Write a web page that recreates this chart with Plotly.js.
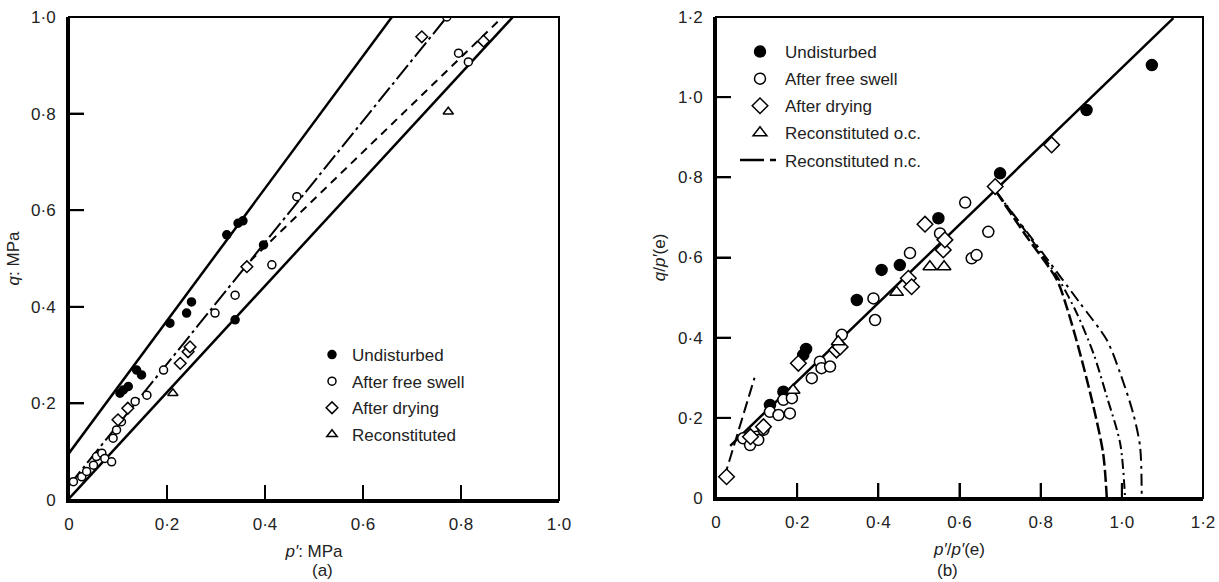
<!DOCTYPE html>
<html>
<head>
<meta charset="utf-8">
<script src="https://cdn.plot.ly/plotly-3.0.1.min.js"></script>
<style>html,body{margin:0;padding:0;background:#fff;}#chart{width:1219px;height:582px;}</style>
</head>
<body>
<div id="chart"></div>
<script>
// ---------- Panel (a): q vs p' (MPa) ----------
const aUndX = [0.104, 0.111, 0.121, 0.138, 0.148, 0.206, 0.24, 0.25, 0.322, 0.339, 0.345, 0.355, 0.397];
const aUndY = [0.221, 0.228, 0.235, 0.269, 0.259, 0.366, 0.387, 0.41, 0.549, 0.373, 0.573, 0.578, 0.528];
const aSwellX = [0.009, 0.026, 0.036, 0.05, 0.056, 0.067, 0.073, 0.087, 0.09, 0.097, 0.107, 0.135, 0.159, 0.193, 0.298, 0.339, 0.414, 0.465, 0.771, 0.795, 0.815];
const aSwellY = [0.038, 0.048, 0.059, 0.072, 0.09, 0.097, 0.086, 0.079, 0.128, 0.145, 0.162, 0.204, 0.217, 0.269, 0.387, 0.424, 0.487, 0.628, 1.0, 0.925, 0.907];
const aDryX = [0.1, 0.12, 0.227, 0.243, 0.247, 0.363, 0.72, 0.846];
const aDryY = [0.166, 0.19, 0.283, 0.307, 0.317, 0.483, 0.959, 0.95];
const aRecX = [0.212, 0.774];
const aRecY = [0.221, 0.804];
// fitted lines (a)
const aLineUndX = [0, 0.659], aLineUndY = [0.097, 1.0];
const aLineSwellX = [0, 0.771], aLineSwellY = [0.03, 1.0];
const aLineDryX = [0.37, 0.885], aLineDryY = [0.495, 1.0];
const aLineRecX = [0, 0.906], aLineRecY = [0.003, 1.0];

// ---------- Panel (b): q/p'(e) vs p'/p'(e) ----------
const bUndX = [0.133, 0.166, 0.215, 0.222, 0.347, 0.408, 0.453, 0.548, 0.700, 0.913, 1.074];
const bUndY = [0.232, 0.265, 0.357, 0.372, 0.494, 0.569, 0.581, 0.698, 0.810, 0.968, 1.080];
const bSwellX = [0.067, 0.084, 0.100, 0.104, 0.117, 0.133, 0.154, 0.166, 0.182, 0.187, 0.236, 0.256, 0.260, 0.281, 0.310, 0.388, 0.392, 0.478, 0.552, 0.614, 0.630, 0.642, 0.671];
const bSwellY = [0.149, 0.132, 0.153, 0.145, 0.170, 0.215, 0.207, 0.245, 0.211, 0.249, 0.299, 0.340, 0.324, 0.328, 0.407, 0.498, 0.444, 0.611, 0.660, 0.737, 0.598, 0.606, 0.664];
const bDryX = [0.026, 0.085, 0.117, 0.203, 0.297, 0.306, 0.474, 0.482, 0.515, 0.560, 0.564, 0.688, 0.827];
const bDryY = [0.053, 0.153, 0.178, 0.336, 0.369, 0.377, 0.548, 0.527, 0.683, 0.619, 0.644, 0.777, 0.881];
const bRecX = [0.19, 0.301, 0.445, 0.527, 0.562];
const bRecY = [0.269, 0.39, 0.513, 0.577, 0.577];
const bLineX = [0.035, 1.127], bLineY = [0.13, 1.197];
const bNc0X = [0.02, 0.095], bNc0Y = [0.05, 0.30];
const bNcAX = [0.69, 0.76, 0.84, 0.864, 0.897, 0.930, 0.954, 0.963];
const bNcAY = [0.765, 0.66, 0.544, 0.477, 0.361, 0.228, 0.111, 0.0];
const bNcBX = [0.69, 0.77, 0.845, 0.889, 0.930, 0.963, 0.996, 1.008];
const bNcBY = [0.765, 0.655, 0.545, 0.461, 0.361, 0.253, 0.136, 0.0];
const bNcCX = [0.69, 0.78, 0.85, 0.897, 0.963, 0.996, 1.028, 1.045, 1.049];
const bNcCY = [0.765, 0.645, 0.55, 0.486, 0.394, 0.311, 0.211, 0.128, 0.0];

const tickA = [0, 0.2, 0.4, 0.6, 0.8, 1.0];
const tickAText = ['0', '0·2', '0·4', '0·6', '0·8', '1·0'];
const tickB = [0, 0.2, 0.4, 0.6, 0.8, 1.0, 1.2];
const tickBText = ['0', '0·2', '0·4', '0·6', '0·8', '1·0', '1·2'];

const FONT = 'Liberation Sans, Arial, sans-serif';
const TXT = '#222';

function line(x, y, xa, ya, width, dash, shape) {
  return {x: x, y: y, xaxis: xa, yaxis: ya, mode: 'lines', showlegend: false,
    hoverinfo: 'skip', line: {color: '#000', width: width, dash: dash, shape: shape || 'linear', smoothing: 0.8}};
}
function pts(x, y, xa, ya, name, symbol, filled, size, legend, group) {
  return {x: x, y: y, xaxis: xa, yaxis: ya, mode: 'markers', name: name, legend: legend, legendgroup: group,
    marker: {symbol: symbol, size: size, color: filled ? '#000' : '#fff', line: {color: '#000', width: 1.5}}};
}

const data = [
  line(aLineUndX, aLineUndY, 'x', 'y', 2.5, 'solid'),
  line(aLineSwellX, aLineSwellY, 'x', 'y', 2, '18px,4px,3px,4px'),
  line(aLineDryX, aLineDryY, 'x', 'y', 2, '8px,6px'),
  line(aLineRecX, aLineRecY, 'x', 'y', 2.5, 'solid'),
  pts(aUndX, aUndY, 'x', 'y', 'Undisturbed', 'circle', true, 8, 'legend', 'a1'),
  pts(aSwellX, aSwellY, 'x', 'y', 'After free swell', 'circle', false, 8, 'legend', 'a2'),
  pts(aDryX, aDryY, 'x', 'y', 'After drying', 'diamond', false, 9, 'legend', 'a3'),
  pts(aRecX, aRecY, 'x', 'y', 'Reconstituted', 'triangle-up', false, 9, 'legend', 'a4'),

  line(bLineX, bLineY, 'x2', 'y2', 2.5, 'solid'),
  line(bNc0X, bNc0Y, 'x2', 'y2', 2, '12px,5px'),
  line(bNcAX, bNcAY, 'x2', 'y2', 2.5, '12px,4px', 'spline'),
  line(bNcBX, bNcBY, 'x2', 'y2', 2, '10px,4px,2px,4px', 'spline'),
  line(bNcCX, bNcCY, 'x2', 'y2', 2, '12px,5px,3px,5px', 'spline'),
  pts(bUndX, bUndY, 'x2', 'y2', 'Undisturbed', 'circle', true, 11, 'legend2', 'b1'),
  pts(bSwellX, bSwellY, 'x2', 'y2', 'After free swell', 'circle', false, 11, 'legend2', 'b2'),
  pts(bDryX, bDryY, 'x2', 'y2', 'After drying', 'diamond', false, 12, 'legend2', 'b3'),
  pts(bRecX, bRecY, 'x2', 'y2', 'Reconstituted o.c.', 'triangle-up', false, 12, 'legend2', 'b4'),
  {x: [null], y: [null], xaxis: 'x2', yaxis: 'y2', mode: 'lines', name: 'Reconstituted n.c.',
   legend: 'legend2', legendgroup: 'b5', line: {color: '#000', width: 2.5, dash: '24px,6px,6px,20px'}}
];

function axis(domain, range, tv, tt, title, standoff, anchor) {
  return {domain: domain, range: range, anchor: anchor, tickmode: 'array', tickvals: tv, ticktext: tt,
    ticks: 'inside', ticklen: 15, tickwidth: 2, tickcolor: '#000', layer: 'above traces',
    showline: true, linewidth: 3, linecolor: '#000', mirror: false,
    showgrid: false, zeroline: false, fixedrange: true,
    tickfont: {family: FONT, size: 17, color: TXT}, ticklabelstandoff: 7,
    title: {text: title, font: {family: FONT, size: 17, color: TXT}, standoff: standoff}};
}

// inside tick marks, placed through the axes' own scales at the tick values
function tickShapes(vals, xref, yref, isX) {
  const out = [];
  vals.forEach(function (v, i) {
    if (i === 0 || i === vals.length - 1) return;
    if (isX) {
      out.push({type: 'line', xref: xref, yref: yref, x0: v, x1: v, ysizemode: 'pixel', yanchor: 0, y0: 0, y1: 15,
        line: {color: '#000', width: 2}, layer: 'above'});
    } else {
      out.push({type: 'line', xref: xref, yref: yref, y0: v, y1: v, xsizemode: 'pixel', xanchor: 0, x0: 0, x1: 15,
        line: {color: '#000', width: 2}, layer: 'above'});
    }
  });
  return out;
}

const frameShapes = [
  {type: 'rect', xref: 'x domain', yref: 'y domain', x0: 0, x1: 1, y0: 0, y1: 1, line: {color: '#000', width: 2}, fillcolor: 'rgba(0,0,0,0)', layer: 'above'},
  {type: 'rect', xref: 'x2 domain', yref: 'y2 domain', x0: 0, x1: 1, y0: 0, y1: 1, line: {color: '#000', width: 2}, fillcolor: 'rgba(0,0,0,0)', layer: 'above'}
];

const layout = {
  width: 1219, height: 582,
  margin: {l: 0, r: 0, t: 0, b: 0},
  paper_bgcolor: '#fff', plot_bgcolor: 'rgba(0,0,0,0)',
  font: {family: FONT, size: 17, color: TXT},
  xaxis: axis([69/1219, 559/1219], [0, 1], tickA, tickAText, '<i>p′</i>: MPa', 12, 'y'),
  yaxis: axis([1 - 500/582, 1 - 17/582], [0, 1], tickA, tickAText, '<i>q</i>: MPa', 8, 'x'),
  xaxis2: axis([716/1219, 1203/1219], [0, 1.2], tickB, tickBText, '<i>p′</i>/<i>p′</i>(e)', 12, 'y2'),
  yaxis2: axis([1 - 498/582, 1 - 17/582], [0, 1.2], tickB, tickBText, '<i>q</i>/<i>p′</i>(e)', 9, 'x2'),
  legend: {x: 312/1219, y: 1 - 337/582, xanchor: 'left', yanchor: 'top', bgcolor: 'rgba(0,0,0,0)',
    font: {family: FONT, size: 17, color: TXT}, tracegroupgap: 1.5, traceorder: 'grouped'},
  legend2: {x: 735/1219, y: 1 - 34/582, xanchor: 'left', yanchor: 'top', bgcolor: 'rgba(0,0,0,0)',
    font: {family: FONT, size: 17, color: TXT}, tracegroupgap: 2, traceorder: 'grouped', itemwidth: 40},
  shapes: frameShapes
    .concat(tickShapes(tickA, 'x', 'y', true))
    .concat(tickShapes(tickA, 'x', 'y', false))
    .concat(tickShapes(tickB, 'x2', 'y2', true))
    .concat(tickShapes(tickB, 'x2', 'y2', false)),
  annotations: [
    {text: '(a)', xref: 'paper', yref: 'paper', x: 310/1219, y: 0, yanchor: 'bottom', showarrow: false,
     font: {family: FONT, size: 17, color: TXT}},
    {text: '(b)', xref: 'paper', yref: 'paper', x: 960/1219, y: 0, yanchor: 'bottom', showarrow: false,
     font: {family: FONT, size: 17, color: TXT}}
  ]
};

Plotly.newPlot('chart', data, layout, {displayModeBar: false, staticPlot: true});
</script>
</body>
</html>
